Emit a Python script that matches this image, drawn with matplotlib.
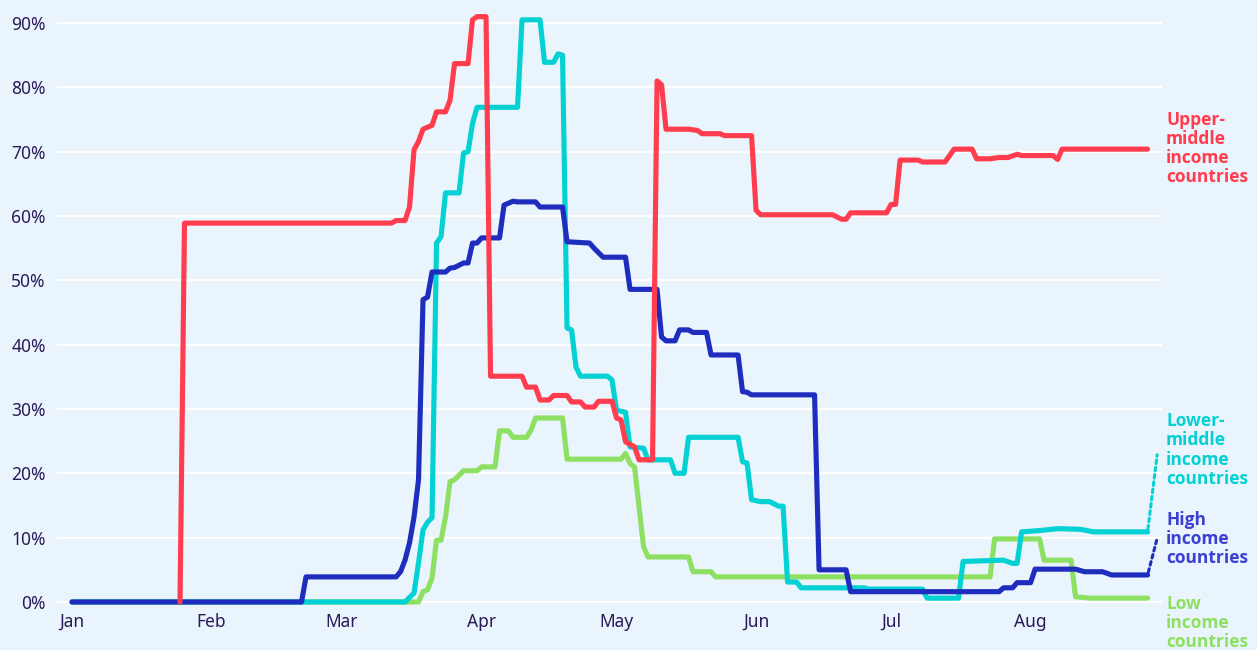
import matplotlib
matplotlib.use("Agg")
import matplotlib.pyplot as plt
import numpy as np
import pandas as pd

# days counted from 1 Jan 2020, values in %
start = pd.Timestamp("2020-01-01")

up_day = [24, 25, 71, 72, 74, 75, 76, 77, 78, 80, 81, 83, 84, 85, 88, 89, 90, 92, 93,
          100, 101, 103, 104, 106, 107, 110, 111, 113, 114, 116, 117, 120, 121, 122, 123,
          125, 126, 129, 130, 131, 132, 137, 139, 140, 144, 145, 151, 152, 153, 169, 171,
          172, 173, 181, 182, 183, 184, 188, 189, 194, 196, 200, 201, 204, 206, 208, 210,
          211, 218, 219, 220, 239]
up_val = [0, 58.9, 58.9, 59.3, 59.3, 61.4, 70.3, 71.6, 73.5, 74.1, 76.2, 76.2, 78.0,
          83.7, 83.7, 90.5, 91.0, 91.0, 35.1,
          35.1, 33.4, 33.4, 31.4, 31.4, 32.1, 32.1, 31.1, 31.1, 30.3, 30.3, 31.2, 31.2, 28.6,
          28.3, 24.9, 24.1, 22.1, 22.1, 81.0, 80.4, 73.5, 73.5, 73.3, 72.8, 72.8, 72.5, 72.5,
          60.9, 60.2, 60.2, 59.5, 59.5, 60.5, 60.5, 61.8, 61.8, 68.7, 68.7, 68.4, 68.4, 70.4,
          70.4, 68.9, 68.9, 69.1, 69.1, 69.6, 69.4, 69.4, 68.8, 70.4, 70.4]

lo_mid_day = [0, 74, 76, 77, 78, 79, 80, 81, 82, 83, 86, 87, 88, 89, 90, 99, 100, 104, 105,
              107, 108, 109, 110, 111, 112, 113, 119, 120, 121, 123, 124, 127, 128, 133, 134,
              136, 137, 148, 149, 150, 151, 153, 155, 157, 158, 159, 161, 162, 176, 177, 189,
              190, 197, 198, 207, 209, 210, 211, 215, 219, 224, 227, 239]
lo_mid_val = [0, 0, 1.4, 6.1, 11.2, 12.4, 13.1, 55.8, 56.8, 63.6, 63.6, 69.8, 70.0, 74.4,
              76.9, 76.9, 90.5, 90.5, 83.9, 83.9, 85.2, 85.0, 42.6, 42.3, 36.5, 35.1, 35.1,
              34.5, 29.8, 29.5, 24.1, 23.9, 22.1, 22.1, 20.0, 20.0, 25.6, 25.6, 21.8, 21.6,
              15.9, 15.6, 15.6, 14.9, 14.9, 3.1, 3.1, 2.2, 2.2, 2.0, 2.0, 0.6, 0.6, 6.3, 6.5,
              6.0, 6.0, 10.9, 11.1, 11.4, 11.3, 10.9, 10.9]

high_day = [0, 51, 52, 72, 73, 74, 75, 76, 77, 78, 79, 80, 83, 84, 85, 87, 88, 89, 90, 91,
            95, 96, 98, 99, 103, 104, 109, 110, 115, 116, 118, 123, 124, 130, 131, 132, 134,
            135, 137, 138, 141, 142, 148, 149, 150, 151, 165, 166, 172, 173, 206, 207, 209,
            210, 213, 214, 223, 225, 229, 231, 239]
high_val = [0, 0, 3.9, 3.9, 4.7, 6.5, 9.2, 13.2, 19.0, 47.0, 47.4, 51.3, 51.3, 51.9, 52.0,
            52.7, 52.7, 55.8, 55.8, 56.6, 56.6, 61.7, 62.3, 62.2, 62.2, 61.4, 61.4, 56.0,
            55.8, 55.0, 53.6, 53.6, 48.6, 48.6, 41.2, 40.6, 40.6, 42.3, 42.3, 41.9, 41.9,
            38.4, 38.4, 32.7, 32.6, 32.2, 32.2, 5.0, 5.0, 1.6, 1.6, 2.2, 2.2, 3.0, 3.0, 5.1,
            5.1, 4.7, 4.7, 4.2, 4.2]

low_day = [0, 77, 78, 79, 80, 81, 82, 83, 84, 85, 87, 90, 91, 94, 95, 97, 98, 101, 102, 103,
           109, 110, 122, 123, 124, 125, 127, 128, 137, 138, 142, 143, 204, 205, 215, 216,
           222, 223, 226, 239]
low_val = [0, 0, 1.6, 1.9, 3.7, 9.6, 9.6, 13.2, 18.7, 19.0, 20.4, 20.4, 21.0, 21.0, 26.6,
           26.6, 25.6, 25.6, 26.7, 28.6, 28.6, 22.2, 22.2, 23.1, 21.5, 21.0, 8.6, 7.0, 7.0,
           4.7, 4.7, 3.9, 3.9, 9.8, 9.8, 6.5, 6.5, 0.8, 0.6, 0.6]

labels = ["Upper-\nmiddle\nincome\ncountries", "Lower-\nmiddle\nincome\ncountries",
          "High\nincome\ncountries", "Low\nincome\ncountries"]
colors = ["#ff3d4f", "#03d1d3", "#1f2dbf", "#8ee063"]
text_colors = ["#ff3d4f", "#03d1d3", "#3b3fd2", "#8ee063"]
month_labels = ["Jan", "Feb", "Mar", "Apr", "May", "Jun", "Jul", "Aug"]

plt.rcParams['font.family'] = ['Noto Sans', 'DejaVu Sans']
bg = "#eaf4fc"
ink = "#2a1a5a"

fig = plt.figure(figsize=(12.57, 6.5), dpi=100, facecolor=bg)
ax = fig.add_axes([57 / 1257, 41.6 / 650, 1105 / 1257, 598.2 / 650])
ax.set_facecolor(bg)

def to_dates(days):
    return start + pd.to_timedelta(days, unit="D")

series = [(up_day, up_val), (lo_mid_day, lo_mid_val),
          (high_day, high_val), (low_day, low_val)]
order = [3, 1, 2, 0]  # draw green first, red last
for i in order:
    d, v = series[i]
    ax.plot(to_dates(d), v, color=colors[i], lw=3.7, solid_joinstyle="round",
            solid_capstyle="round", zorder=3 + order.index(i))

ax.set_ylim(-1, 92)
ax.set_xlim(start - pd.Timedelta(days=3.33), start + pd.Timedelta(days=242.2))
ax.set_yticks(np.arange(0, 91, 10))
ax.set_yticklabels([f"{t}%" for t in range(0, 91, 10)])
ax.set_xticks(pd.date_range(start, periods=8, freq="MS"))
ax.set_xticklabels(month_labels)
ax.tick_params(axis="both", length=0, colors=ink, labelsize=12.5)
ax.tick_params(axis="y", pad=8)
ax.tick_params(axis="x", pad=3)
ax.grid(axis="y", color="white", lw=1.6, zorder=1)
ax.grid(axis="x", visible=False)
for s in ax.spines.values():
    s.set_visible(False)

# end labels
label_y = [148.5, 450, 539, 623]
for i in range(4):
    fig.text(1166 / 1257, 1 - label_y[i] / 650, labels[i], color=text_colors[i],
             fontsize=12.5, fontweight="bold", va="center", ha="left",
             linespacing=1.08, family=["Open Sans", "DejaVu Sans"])

# dotted leader lines from the last points to the labels
for i, dy in [(1, 12.4), (2, 5.9)]:
    d, v = series[i]
    ax.annotate("", xy=(to_dates([d[-1] + 2.2])[0], v[-1] + dy),
                xytext=(to_dates([d[-1]])[0], v[-1]),
                arrowprops=dict(arrowstyle="-", color=colors[i], lw=2.2,
                                linestyle=(0, (1.2, 1.2))),
                annotation_clip=False)

fig.savefig("out.png", dpi=100, facecolor=bg)
